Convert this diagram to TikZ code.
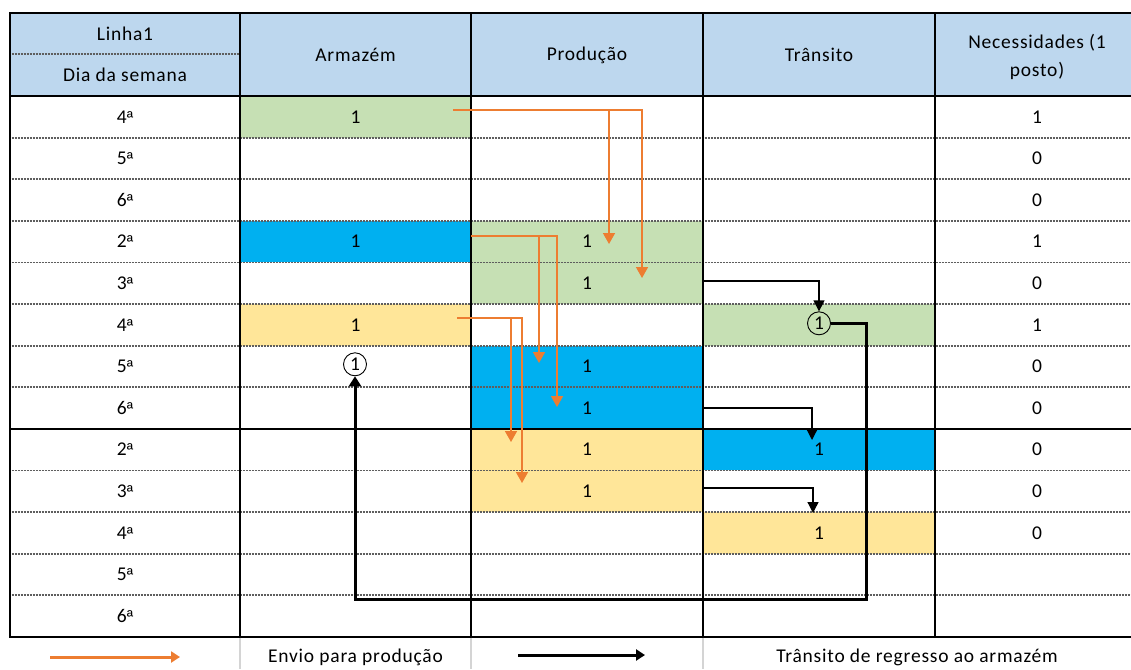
\documentclass[tikz,border=0pt]{standalone}
\usepackage{fontspec}
\setmainfont{Carlito}[LetterSpace=4]
\newfontfamily\ordfont{Liberation Sans}
\usetikzlibrary{arrows.meta}
\definecolor{headBlue}{HTML}{BDD7EE}
\definecolor{weekGreen}{HTML}{C6E0B4}
\definecolor{weekBlue}{HTML}{00B0F0}
\definecolor{weekYellow}{HTML}{FFE699}
\definecolor{sendOrange}{HTML}{ED7D31}
\definecolor{rowGray}{HTML}{5E5E5E}
\definecolor{legendGray}{HTML}{D4D4D4}
\tikzset{
  every node/.style={font=\fontsize{19.5}{28}\selectfont},
  cell/.style={minimum width=231pt, minimum height=41.6pt, inner sep=0pt},
  ringed/.style={draw, circle, line width=0.9pt, minimum size=23pt, inner sep=0pt},
  gridline/.style={line width=1.5pt, line cap=rect},
  rowline/.style={rowGray, line width=1.8pt, dash pattern=on 0.9pt off 0.6pt},
  legendline/.style={legendGray, line width=1.2pt},
  send/.style={-{Triangle[length=11pt, width=12pt]}, sendOrange, line width=1.6pt},
  transit/.style={-{Triangle[length=11pt, width=11pt]}, line width=1.3pt},
  back/.style={-{Triangle[length=10pt, width=12pt]}, line width=3pt},
  keysend/.style={-{Triangle[length=9pt, width=11pt]}, sendOrange, line width=3pt},
  keyback/.style={-{Triangle[length=9pt, width=11pt]}, line width=3pt},
}

\begin{document}
\begin{tikzpicture}[x=1pt, y=-1pt]
\useasboundingbox (0,0) rectangle (1131,669);

% ---------------------------------------------------------------- the header
\fill[headBlue] (10,13) rectangle (1131,96);
\node (hLine) at (125,33.5) {Linha1};
\node (hDay) at (125,75) {Dia da semana};
\node (hStock) at (355.5,55) {Armazém};
\node (hMake) at (587,55) {Produção};
\node (hTrans) at (819,55) {Trânsito};
\node[align=center] (hNeed) at (1037,57) {Necessidades (1\\posto)};

% ------------------------------------------------- the days and the needs
\foreach \d/\n [count=\k] in {4/1, 5/0, 6/0, 2/1, 3/0, 4/1, 5/0,
                              6/0, 2/0, 3/0, 4/0, 5/{}, 6/{}}{
  \node (day\k) at (125,{96+41.6*(\k-0.5)}) {\d{\ordfont\fontsize{17}{20}\selectfont ª}};
  \node (need\k) at (1037,{96+41.6*(\k-0.5)}) {\n};}

% --------------------------------------------------------- the filled cells
\node[cell, fill=weekGreen] (arm1) at (355.5,116.8) {1};
\node[cell, fill=weekBlue] (arm4) at (355.5,241.6) {1};
\node[cell, fill=weekYellow] (arm6) at (355.5,324.8) {1};
\node[cell, fill=weekGreen, minimum width=232pt] (prod4) at (587,241.6) {1};
\node[cell, fill=weekGreen, minimum width=232pt] (prod5) at (587,283.2) {1};
\node[cell, fill=weekBlue, minimum width=232pt] (prod7) at (587,366.4) {1};
\node[cell, fill=weekBlue, minimum width=232pt] (prod8) at (587,408) {1};
\node[cell, fill=weekYellow, minimum width=232pt] (prod9) at (587,449.6) {1};
\node[cell, fill=weekYellow, minimum width=232pt] (prod10) at (587,491.2) {1};
\node[cell, fill=weekGreen, minimum width=232pt] (trans6) at (819,324.8) {};
\node[cell, fill=weekBlue, minimum width=232pt] (trans9) at (819,449.6) {1};
\node[cell, fill=weekYellow, minimum width=232pt] (trans11) at (819,532.8) {1};

% the unit that comes back, and where it lands
\node[ringed] (ring6) at (819,323.3) {1};
\node[ringed] (ring7) at (355,364.3) {1};

% ------------------------------------------------------------------ the grid
\draw[rowline] (10,54) -- (240,54);
\foreach \y in {137.6,179.2,220.8,262.4,304,345.6,387.2,470.4,512,553.6,595.2}
  \draw[rowline] (10,\y) -- (1131,\y);
\foreach \y in {13,96,428.8,636.8} \draw[gridline] (10,\y) -- (1131,\y);
\foreach \x in {10,240,471,703,935} \draw[gridline] (\x,13) -- (\x,636.8);
\foreach \x in {240,471,703} \draw[legendline] (\x,637.5) -- (\x,669);

% ------------------------------------------------------ sent to production
\coordinate (sendG) at (453,110);
\coordinate (sendB) at (471,236);
\coordinate (sendY) at (457,318);
\coordinate (inG4) at (609,244);
\coordinate (inG5) at (642,278);
\coordinate (inB7) at (539,363);
\coordinate (inB8) at (557,407);
\coordinate (inY9) at (511,442);
\coordinate (inY10) at (522,483);
\draw[send] (sendG) -| (inG4);
\draw[send] (sendG) -| (inG5);
\draw[send] (sendB) -| (inB7);
\draw[send] (sendB) -| (inB8);
\draw[send] (sendY) -| (inY9);
\draw[send] (sendY) -| (inY10);

% ------------------------------------------ in transit, back to the store
\coordinate (outG) at (703,281);
\coordinate (outB) at (703,408);
\coordinate (outY) at (703,488);
\coordinate (inT9) at (812,440);
\coordinate (inT11) at (813,513);
\draw[transit] (outG) -| (ring6.north);
\draw[transit] (outB) -| (inT9);
\draw[transit] (outY) -| (inT11);

\coordinate (backTurn) at (866,599);
\draw[back] (ring6.east) -| (backTurn) -| (ring7.south);

% ------------------------------------------------------------------ the key
\coordinate (keySendA) at (50,657);
\coordinate (keySendB) at (180,657);
\coordinate (keyBackA) at (518,655);
\coordinate (keyBackB) at (645,655);
\draw[keysend] (keySendA) -- (keySendB);
\draw[keyback] (keyBackA) -- (keyBackB);
\node (keySend) at (355.5,657) {Envio para produção};
\node (keyBack) at (917,657) {Trânsito de regresso ao armazém};

\end{tikzpicture}
\end{document}
